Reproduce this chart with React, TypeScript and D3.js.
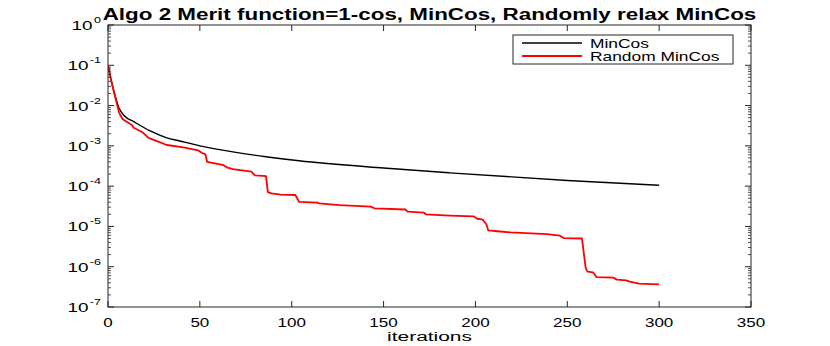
import React from 'react';
import * as d3 from 'd3';

// values
const minCosIter = [0, 2, 4, 6, 9, 14, 23, 32, 39, 50, 68, 86, 104, 150, 186, 250, 300];
const minCosVal = [0.1, 0.0372, 0.0166, 0.0087, 0.0055, 0.004, 0.00234, 0.00158, 0.00132, 0.001,
  0.000708, 0.000537, 0.000427, 0.000282, 0.000214, 0.000138, 0.000105];

const randIter = [0, 2, 4, 6, 7, 8, 13, 14, 19, 22, 27, 32, 41, 49, 51, 53, 54, 63, 65, 68, 78, 80,
  86, 87, 89, 94, 102, 104, 114, 115, 126, 143, 145, 162, 163, 172, 173, 186, 199, 201, 204, 206,
  207, 212, 219, 239, 246, 248, 258, 260, 261, 264, 266, 275, 277, 282, 284, 289, 300];
const randVal = [0.1, 0.0372, 0.0158, 0.0068, 0.0055, 0.00457, 0.00331, 0.00282, 0.00214, 0.00158,
  0.00129, 0.00105, 0.000912, 0.000776, 0.000676, 0.000617, 0.000398, 0.000331, 0.000288, 0.000263,
  0.000229, 0.000186, 0.000178, 0.0000708, 0.0000661, 0.0000617, 0.0000603, 0.0000407, 0.0000389,
  0.0000372, 0.0000339, 0.0000309, 0.0000282, 0.0000263, 0.0000234, 0.0000219, 0.00002, 0.0000186,
  0.0000178, 0.0000155, 0.0000148, 0.0000112, 0.00000794, 0.00000759, 0.00000708, 0.00000646,
  0.00000589, 0.00000513, 0.00000501, 0.000000933, 7.59e-7, 7.24e-7, 5.5e-7, 5.37e-7, 4.79e-7,
  4.57e-7, 4.27e-7, 3.8e-7, 3.63e-7];

const xTicks = [0, 50, 100, 150, 200, 250, 300, 350];
const yExponents = [0, -1, -2, -3, -4, -5, -6, -7];

const titleText = 'Algo 2 Merit function=1-cos, MinCos, Randomly relax MinCos';
const legendNames = ['MinCos', 'Random MinCos'];
const legendColors = ['#000000', '#ff0000'];

const W = 830, H = 346;
const left = 108, right = 751, top = 25, bottom = 307;
const axisColor = '#262626';
const font = '"Liberation Sans", Arial, Helvetica, sans-serif';
// the reference figure is stretched sideways, so its text is too
const SX = 1.42;

function SText(props: any) {
  const { x, y, sx = SX, children, ...rest } = props;
  return (
    <text transform={`translate(${x},${y}) scale(${sx},1)`} fill="#000" {...rest}>
      {children}
    </text>
  );
}

export default function App() {
  const x = d3.scaleLinear().domain([0, 350]).range([left, right]);
  const y = d3.scaleLog().domain([1e-7, 1]).range([bottom, top]);

  const black = minCosIter.map((d, i) => [d, minCosVal[i]] as [number, number]);
  const red = randIter.map((d, i) => [d, randVal[i]] as [number, number]);

  const smooth = d3.line<[number, number]>().x(d => x(d[0])).y(d => y(d[1])).curve(d3.curveMonotoneX);
  const steps = d3.line<[number, number]>().x(d => x(d[0])).y(d => y(d[1]));

  // minor ticks for log axis
  const minor: number[] = [];
  for (let e = -7; e < 0; e++) {
    for (let k = 2; k <= 9; k++) minor.push(k * Math.pow(10, e));
  }

  return (
    <svg width={W} height={H} style={{ position: 'absolute', left: 0, top: 0, background: '#fff' }}
      fontFamily={font}>
      <rect x={0} y={0} width={W} height={H} fill="#fff" />

      <clipPath id="clip">
        <rect x={left} y={top} width={right - left} height={bottom - top} />
      </clipPath>
      <g clipPath="url(#clip)">
        <path d={smooth(black) || ''} fill="none" stroke="#000" strokeWidth={1.4} />
        <path d={steps(red) || ''} fill="none" stroke="#ff0000" strokeWidth={1.8} strokeLinejoin="round" />
      </g>

      {/* box */}
      <rect x={left} y={top} width={right - left} height={bottom - top} fill="none" stroke={axisColor} strokeWidth={1} />

      {/* x ticks */}
      {xTicks.map(t => (
        <g key={'x' + t}>
          <line x1={x(t)} x2={x(t)} y1={bottom} y2={bottom - 6} stroke={axisColor} />
          <line x1={x(t)} x2={x(t)} y1={top} y2={top + 6} stroke={axisColor} />
          <SText x={x(t)} y={327} textAnchor="middle" fontSize={12}>{t}</SText>
        </g>
      ))}

      {/* y ticks */}
      {yExponents.map(e => (
        <g key={'y' + e}>
          <line x1={left} x2={left + 6} y1={y(Math.pow(10, e))} y2={y(Math.pow(10, e))} stroke={axisColor} />
          <line x1={right} x2={right - 6} y1={y(Math.pow(10, e))} y2={y(Math.pow(10, e))} stroke={axisColor} />
          <SText x={101} y={y(Math.pow(10, e)) + 5} textAnchor="end" fontSize={13.5} sx={1.4}>
            10<tspan fontSize={9} dy={-7} dx={1}>{e}</tspan>
          </SText>
        </g>
      ))}
      {minor.map((m, i) => (
        <g key={'m' + i}>
          <line x1={left} x2={left + 3} y1={y(m)} y2={y(m)} stroke={axisColor} strokeWidth={0.8} />
          <line x1={right} x2={right - 3} y1={y(m)} y2={y(m)} stroke={axisColor} strokeWidth={0.8} />
        </g>
      ))}

      {/* labels */}
      <SText x={(left + right) / 2} y={19.5} textAnchor="middle" fontWeight="bold" fontSize={16} sx={1.4}>
        {titleText}
      </SText>
      <SText x={(left + right) / 2} y={341} textAnchor="middle" fontSize={13.5} sx={1.55}>iterations</SText>

      {/* legend */}
      <rect x={513} y={35} width={220} height={29} fill="#fff" stroke={axisColor} strokeWidth={1} />
      {legendNames.map((n, i) => (
        <g key={n}>
          <line x1={522} x2={582} y1={43 + i * 13} y2={43 + i * 13} stroke={legendColors[i]} strokeWidth={i ? 1.8 : 1.4} />
          <SText x={590} y={47.5 + i * 13} fontSize={12.5} sx={1.39}>{n}</SText>
        </g>
      ))}
    </svg>
  );
}
